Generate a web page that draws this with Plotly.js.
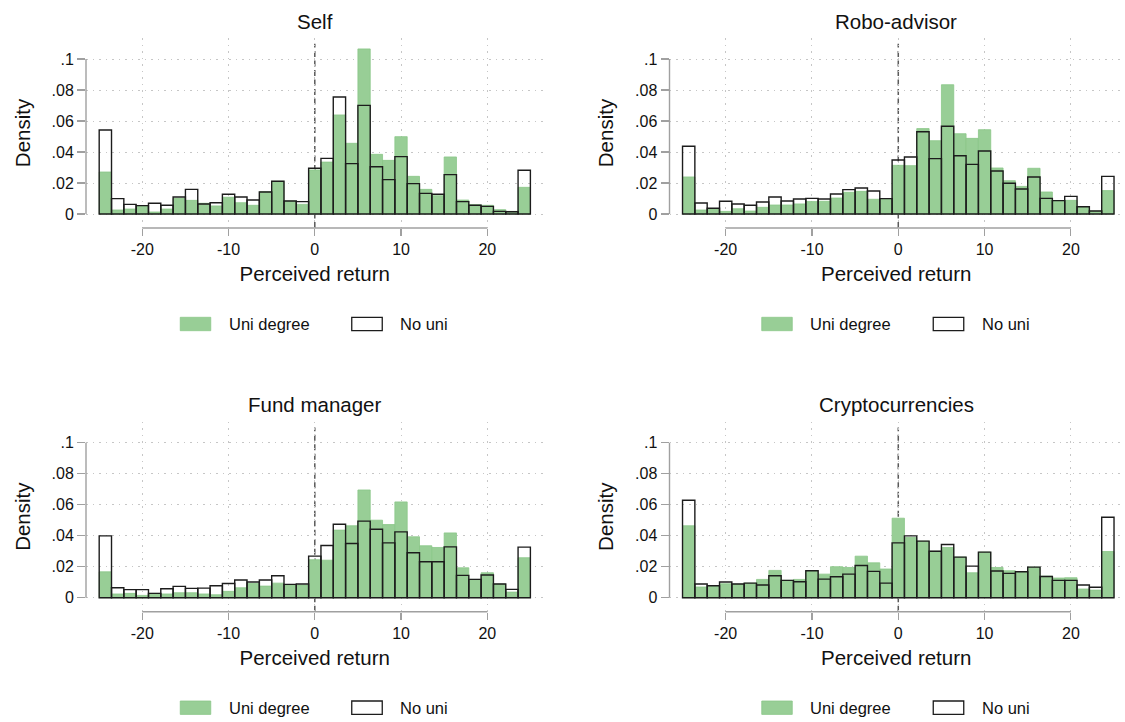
<!DOCTYPE html>
<html>
<head>
<meta charset="utf-8">
<script src="https://cdn.plot.ly/plotly-3.0.1.min.js"></script>
<style>
  html, body { margin: 0; padding: 0; background: #fff; }
  #chart { width: 1125px; height: 722px; }
</style>
</head>
<body>
<div id="chart"></div>
<script>
// ---------------- DATA ----------------
const binLow = -25;
const binHigh = 25;
const binCount = 35;

const panelTitles = ['Self', 'Robo-advisor', 'Fund manager', 'Cryptocurrencies'];
const seriesNames = ['Uni degree', 'No uni'];

const xTicks = [-20, -10, 0, 10, 20];
const xTickText = ['-20', '-10', '0', '10', '20'];
const yTicks = [0, 0.02, 0.04, 0.06, 0.08, 0.1];
const yTickText = ['0', '.02', '.04', '.06', '.08', '.1'];

const selfUni = [0.0271,0.0026,0.0032,0.0054,0.0013,0.0032,0.0101,0.0088,0.0069,0.0052,0.0108,0.0073,0.0056,0.0144,0.0211,0.0084,0.0062,0.0284,0.0335,0.0639,0.0456,0.1065,0.0385,0.0346,0.0499,0.0243,0.0159,0.0118,0.0368,0.0090,0.0060,0.0056,0.0028,0.0017,0.0172];
const selfNoUni = [0.0542,0.0099,0.0062,0.0054,0.0069,0.0056,0.0110,0.0159,0.0065,0.0073,0.0127,0.0110,0.0090,0.0142,0.0211,0.0084,0.0080,0.0295,0.0359,0.0755,0.0325,0.0701,0.0305,0.0222,0.0370,0.0196,0.0133,0.0127,0.0254,0.0080,0.0056,0.0049,0.0017,0.0015,0.0282];

const roboUni = [0.0239,0.0026,0.0034,0.0017,0.0034,0.0019,0.0043,0.0058,0.0058,0.0065,0.0080,0.0082,0.0103,0.0140,0.0146,0.0095,0.0099,0.0314,0.0312,0.0551,0.0473,0.0834,0.0518,0.0488,0.0544,0.0297,0.0215,0.0178,0.0295,0.0142,0.0086,0.0088,0.0047,0.0019,0.0151];
const roboNoUni = [0.0437,0.0071,0.0037,0.0082,0.0065,0.0056,0.0077,0.0110,0.0084,0.0097,0.0101,0.0097,0.0129,0.0157,0.0168,0.0148,0.0099,0.0348,0.0368,0.0531,0.0357,0.0566,0.0376,0.0320,0.0406,0.0277,0.0198,0.0161,0.0239,0.0101,0.0086,0.0114,0.0047,0.0019,0.0243];

const fundUni = [0.0167,0.0024,0.0028,0.0015,0.0028,0.0024,0.0032,0.0032,0.0024,0.0019,0.0041,0.0064,0.0092,0.0075,0.0094,0.0084,0.0082,0.0245,0.0242,0.0436,0.0464,0.0695,0.0500,0.0472,0.0618,0.0393,0.0335,0.0324,0.0418,0.0193,0.0118,0.0161,0.0088,0.0036,0.0258];
const fundNoUni = [0.0399,0.0064,0.0052,0.0052,0.0028,0.0058,0.0073,0.0060,0.0062,0.0077,0.0092,0.0114,0.0101,0.0114,0.0142,0.0086,0.0088,0.0268,0.0337,0.0474,0.0350,0.0494,0.0442,0.0354,0.0425,0.0290,0.0232,0.0232,0.0328,0.0144,0.0118,0.0146,0.0088,0.0054,0.0326];

const cryptoUni = [0.0464,0.0069,0.0077,0.0090,0.0088,0.0094,0.0118,0.0176,0.0112,0.0118,0.0174,0.0152,0.0200,0.0195,0.0268,0.0225,0.0185,0.0513,0.0388,0.0365,0.0300,0.0324,0.0262,0.0161,0.0294,0.0195,0.0174,0.0167,0.0197,0.0139,0.0127,0.0129,0.0056,0.0049,0.0298];
const cryptoNoUni = [0.0629,0.0088,0.0077,0.0101,0.0088,0.0094,0.0082,0.0142,0.0112,0.0103,0.0174,0.0120,0.0135,0.0152,0.0208,0.0170,0.0094,0.0354,0.0399,0.0365,0.0300,0.0343,0.0262,0.0204,0.0294,0.0172,0.0157,0.0167,0.0197,0.0137,0.0112,0.0112,0.0082,0.0067,0.0519];

const uniSeries = [selfUni, roboUni, fundUni, cryptoUni];
const noUniSeries = [selfNoUni, roboNoUni, fundNoUni, cryptoNoUni];

// ---------------- LAYOUT / STYLE ----------------
const W = 1125, H = 722;
const FONT = 'Liberation Sans, Arial, Helvetica, sans-serif';
const TXT = '#111111';
const GREEN = 'rgb(152,206,150)';
const GREEN_EDGE = 'rgb(138,199,136)';
const OUTLINE = '#1c1c1c';
const AXIS = '#a0a0a0';
const GRID = '#c6c6c6';

const binWidth = (binHigh - binLow) / binCount;
const binCenters = Array.from({length: binCount}, (_, i) => binLow + binWidth * (i + 0.5));

// pixel boxes for each panel plot area: [left, right], [top, bottom]
const boxes = [
  {x: [86, 543.5], y: [38, 228], xr: [-26.53, 26.52]},
  {x: [669.5, 1123], y: [38, 228], xr: [-26.51, 26.04]},
  {x: [86, 543.5], y: [421.7, 611.7], xr: [-26.53, 26.52]},
  {x: [669.5, 1123], y: [421.7, 611.7], xr: [-26.51, 26.04]}
];
const yRange = [-0.00903, 0.11355];
const titleY = [21, 404.7];
const legendY = [324, 707.7];

const px = v => v / W;
const py = v => 1 - v / H;

const data = [];
const shapes = [];
const annotations = [];
const layout = {
  width: W, height: H,
  margin: {l: 0, r: 0, t: 0, b: 0},
  paper_bgcolor: '#ffffff',
  plot_bgcolor: '#ffffff',
  barmode: 'overlay',
  bargap: 0,
  showlegend: false,
  font: {family: FONT, color: TXT, size: 16}
};

boxes.forEach((b, i) => {
  const s = i === 0 ? '' : String(i + 1);
  const xa = 'x' + s, ya = 'y' + s;
  const row = i < 2 ? 0 : 1;

  data.push({
    type: 'bar', x: binCenters, y: uniSeries[i], width: binWidth,
    xaxis: xa, yaxis: ya, name: seriesNames[0],
    marker: {color: GREEN, line: {color: GREEN_EDGE, width: 0.8}},
    hoverinfo: 'x+y+name'
  });
  data.push({
    type: 'bar', x: binCenters, y: noUniSeries[i], width: binWidth,
    xaxis: xa, yaxis: ya, name: seriesNames[1],
    marker: {color: 'rgba(0,0,0,0)', line: {color: OUTLINE, width: 1.4}},
    hoverinfo: 'x+y+name'
  });

  layout['xaxis' + s] = {
    domain: [px(b.x[0]), px(b.x[1])],
    anchor: ya,
    range: b.xr,
    tickvals: xTicks, ticktext: xTickText,
    ticks: 'outside', ticklen: 7, tickwidth: 1.2, tickcolor: AXIS,
    showline: false, zeroline: false,
    showgrid: true, gridcolor: GRID, gridwidth: 1, griddash: '1.5px,5px',
    tickfont: {size: 16, color: TXT, family: FONT},
    title: {text: 'Perceived return', font: {size: 20.5, color: TXT, family: FONT}, standoff: 9},
    automargin: false, fixedrange: true
  };
  layout['yaxis' + s] = {
    domain: [py(b.y[1]), py(b.y[0])],
    anchor: xa,
    range: yRange,
    tickvals: yTicks, ticktext: yTickText,
    ticks: 'outside', ticklen: 8, tickwidth: 1.2, tickcolor: AXIS,
    showline: false, zeroline: false,
    showgrid: true, gridcolor: GRID, gridwidth: 1, griddash: '1.5px,5px',
    tickfont: {size: 16, color: TXT, family: FONT},
    title: {text: 'Density', font: {size: 20.5, color: TXT, family: FONT}, standoff: 15},
    automargin: false, fixedrange: true
  };

  // y axis line (only across the labelled range)
  shapes.push({type: 'line', layer: 'above', xref: xa + ' domain', yref: ya,
    x0: 0, x1: 0, y0: yTicks[0], y1: yTicks[yTicks.length - 1],
    line: {color: AXIS, width: 1.4}});
  // x axis line (only across the labelled range)
  shapes.push({type: 'line', layer: 'above', xref: xa, yref: ya + ' domain',
    x0: xTicks[0], x1: xTicks[xTicks.length - 1], y0: 0, y1: 0,
    line: {color: AXIS, width: 1.4}});
  // dashed reference line at zero
  shapes.push({type: 'line', layer: 'below', xref: xa, yref: ya + ' domain',
    x0: 0, x1: 0, y0: 0, y1: 0.97,
    line: {color: '#5a5a5a', width: 1.5, dash: '6px,3.5px'}});

  // panel title
  annotations.push({text: panelTitles[i], xref: xa + ' domain', x: 0.5, yref: 'paper', y: py(titleY[row]),
    xanchor: 'center', yanchor: 'middle', showarrow: false,
    font: {size: 20.5, color: TXT, family: FONT}});

  // legend (per panel)
  const cx = (b.x[0] + b.x[1]) / 2;
  const ly = legendY[row];
  shapes.push({type: 'rect', xref: 'paper', yref: 'paper', layer: 'above',
    x0: px(cx - 134.5), x1: px(cx - 104), y0: py(ly + 6.7), y1: py(ly - 6.7),
    fillcolor: GREEN, line: {color: GREEN_EDGE, width: 0.8}});
  annotations.push({text: seriesNames[0], xref: 'paper', yref: 'paper', x: px(cx - 88), y: py(ly),
    xanchor: 'left', yanchor: 'middle', showarrow: false,
    font: {size: 16.5, color: TXT, family: FONT}});
  shapes.push({type: 'rect', xref: 'paper', yref: 'paper', layer: 'above',
    x0: px(cx + 37), x1: px(cx + 67.5), y0: py(ly + 6.7), y1: py(ly - 6.7),
    fillcolor: '#ffffff', line: {color: OUTLINE, width: 1.3}});
  annotations.push({text: seriesNames[1], xref: 'paper', yref: 'paper', x: px(cx + 83.5), y: py(ly),
    xanchor: 'left', yanchor: 'middle', showarrow: false,
    font: {size: 16.5, color: TXT, family: FONT}});
});

layout.shapes = shapes;
layout.annotations = annotations;

Plotly.newPlot('chart', data, layout, {displayModeBar: false, staticPlot: true});
</script>
</body>
</html>
